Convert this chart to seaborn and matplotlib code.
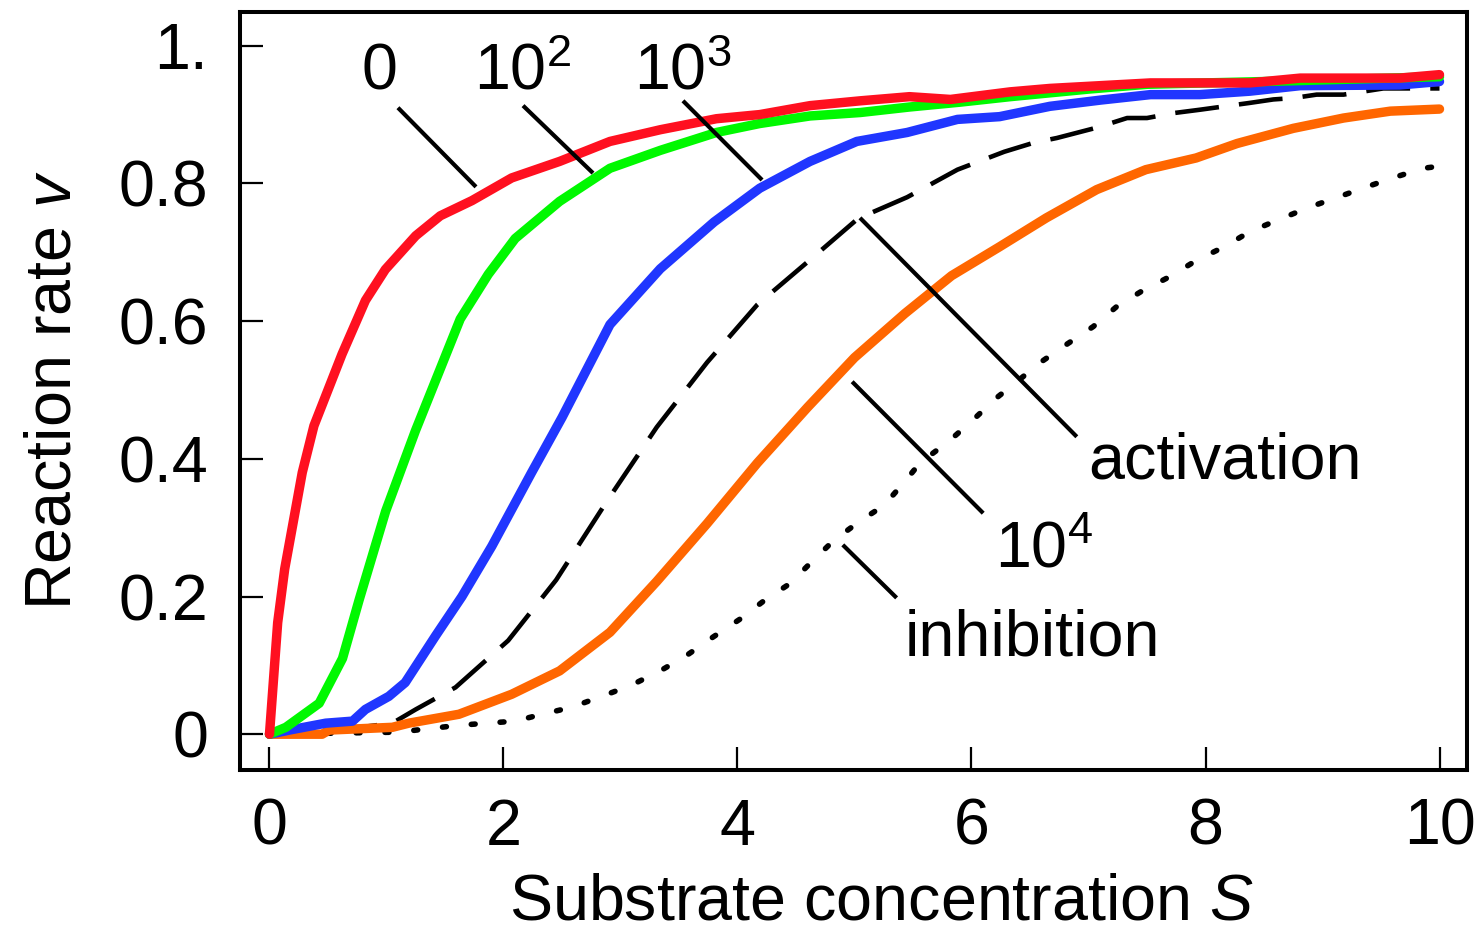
import numpy as np
import pandas as pd
import matplotlib
matplotlib.use("Agg")
import matplotlib.pyplot as plt
import seaborn as sns

# ---- curve data: reaction rate v versus substrate concentration S ----
s_0 = [0, 0.07, 0.13, 0.28, 0.38, 0.62, 0.82, 0.99, 1.25, 1.46, 1.73, 2.07, 2.48,
       2.91, 3.34, 3.82, 4.19, 4.62, 5.05, 5.47, 5.82, 6.33, 6.67, 7.53, 8.38, 8.81,
       9.66, 10.0]
v_0 = [0, 0.162, 0.24, 0.38, 0.448, 0.552, 0.63, 0.675, 0.724, 0.753, 0.775, 0.808,
       0.832, 0.861, 0.878, 0.894, 0.90, 0.913, 0.92, 0.926, 0.922, 0.933, 0.938,
       0.946, 0.946, 0.953, 0.953, 0.958]

s_1e2 = [0, 0.14, 0.425, 0.624, 0.766, 0.993, 1.248, 1.63, 1.87, 2.1, 2.48, 2.91,
         3.34, 3.82, 4.19, 4.62, 5.05, 5.47, 5.9, 6.33, 7.0, 7.5, 8.5, 10.0]
v_1e2 = [0, 0.01, 0.045, 0.11, 0.195, 0.324, 0.441, 0.603, 0.668, 0.72, 0.774, 0.822,
         0.848, 0.874, 0.887, 0.898, 0.903, 0.911, 0.918, 0.926, 0.937, 0.944, 0.948,
         0.955]

s_1e3 = [0, 0.17, 0.48, 0.71, 0.82, 1.02, 1.16, 1.42, 1.645, 1.9, 2.24, 2.5, 2.91,
         3.34, 3.8, 4.19, 4.62, 5.02, 5.45, 5.88, 6.24, 6.67, 7.1, 7.53, 7.95, 8.38,
         8.81, 9.66, 10.0]
v_1e3 = [0, 0.006, 0.016, 0.019, 0.036, 0.055, 0.075, 0.143, 0.2, 0.273, 0.38, 0.46,
         0.595, 0.676, 0.744, 0.793, 0.832, 0.861, 0.874, 0.893, 0.897, 0.912, 0.921,
         0.929, 0.929, 0.934, 0.942, 0.943, 0.948]

s_1e4 = [0, 0.45, 0.51, 1.05, 1.19, 1.62, 2.07, 2.48, 2.91, 3.31, 3.74, 4.17, 4.6,
         5.0, 5.43, 5.83, 6.24, 6.64, 7.07, 7.49, 7.92, 8.27, 8.75, 9.18, 9.58, 10.0]
v_1e4 = [0, 0.0, 0.006, 0.01, 0.016, 0.029, 0.058, 0.092, 0.148, 0.222, 0.306, 0.394,
         0.475, 0.547, 0.611, 0.666, 0.708, 0.75, 0.791, 0.82, 0.837, 0.858, 0.88,
         0.895, 0.905, 0.908]

s_act = [0, 0.5, 1.05, 1.25, 1.59, 2.04, 2.45, 2.89, 3.31, 3.74, 4.17, 4.62, 5.03,
         5.45, 5.88, 6.28, 6.53, 6.73, 7.07, 7.33, 7.5, 7.72, 7.95, 8.38, 8.58, 8.75,
         8.95, 9.18, 9.52, 10.0]
v_act = [0, 0.004, 0.016, 0.036, 0.068, 0.136, 0.224, 0.34, 0.446, 0.54, 0.624,
         0.689, 0.749, 0.78, 0.82, 0.846, 0.859, 0.866, 0.881, 0.895, 0.895, 0.902,
         0.907, 0.917, 0.922, 0.924, 0.929, 0.929, 0.938, 0.938]

s_inh = [0, 1.1, 1.62, 2.1, 2.33, 2.58, 2.84, 3.09, 3.34, 3.57, 3.79, 4.02, 4.22,
         4.45, 4.62, 4.82, 5.05, 5.25, 5.42, 5.56, 5.81, 6.01, 6.21, 6.41, 6.58, 6.82,
         7.04, 7.24, 7.45, 7.71, 7.92, 8.16, 8.38, 8.62, 8.88, 9.13, 9.36, 9.6, 9.86,
         10.0]
v_inh = [0, 0.003, 0.013, 0.019, 0.029, 0.039, 0.055, 0.071, 0.092, 0.115, 0.141,
         0.167, 0.193, 0.219, 0.248, 0.281, 0.31, 0.332, 0.365, 0.394, 0.426, 0.456,
         0.488, 0.515, 0.539, 0.567, 0.592, 0.621, 0.643, 0.666, 0.688, 0.708, 0.73,
         0.747, 0.765, 0.78, 0.794, 0.808, 0.822, 0.825]

x_ticks = [0, 2, 4, 6, 8, 10]
y_ticks = [0, 0.2, 0.4, 0.6, 0.8, 1.0]
y_tick_labels = ["0", "0.2", "0.4", "0.6", "0.8", "1."]

# curve labels: text, anchor (S, v), horizontal alignment
curve_labels = [
    ("0", (0.944, 0.936), "center"),
    ("10$^{2}$", (2.167, 0.936), "center"),
    ("10$^{3}$", (3.53, 0.936), "center"),
    ("activation", (6.996, 0.372), "left"),
    ("10$^{4}$", (6.20, 0.2427), "left"),
    ("inhibition", (5.43, 0.1148), "left"),
]
# leader lines from each label to its curve: (S0, v0, S1, v1)
leaders = [
    (1.098, 0.910, 1.765, 0.795),
    (2.167, 0.913, 2.765, 0.815),
    (3.534, 0.920, 4.210, 0.805),
    (5.047, 0.750, 6.900, 0.432),
    (4.980, 0.512, 6.100, 0.321),
    (4.900, 0.275, 5.360, 0.198),
]

sns.set_theme(style="white")
plt.rcParams["font.family"] = ["Liberation Sans", "DejaVu Sans"]
plt.rcParams["mathtext.fontset"] = "custom"
plt.rcParams["mathtext.rm"] = "Liberation Sans"
plt.rcParams["mathtext.it"] = "Liberation Sans:italic"

fig = plt.figure(figsize=(14.78, 9.33), dpi=100)
ax = fig.add_axes([240 / 1478, 1 - 770 / 933, 1227 / 1478, 758 / 933])

FS = 46.5

# black reference curves
sns.lineplot(x=s_inh, y=v_inh, ax=ax, color="black", lw=4.0, estimator=None,
             sort=False, legend=False)
ln = ax.lines[-1]
ln.set_dashes((0.7, 4.5))
ln.set_dash_capstyle("round")

sns.lineplot(x=s_act, y=v_act, ax=ax, color="black", lw=3.3, estimator=None,
             sort=False, legend=False)
ax.lines[-1].set_dashes((9.6, 4.4))

# coloured curves
colored = [
    (s_1e4, v_1e4, "#FF6600"),
    (s_1e3, v_1e3, "#2036FF"),
    (s_1e2, v_1e2, "#00F800"),
    (s_0, v_0, "#FF1020"),
]
for xs, ys, col in colored:
    sns.lineplot(x=xs, y=ys, ax=ax, color=col, lw=6.8, estimator=None,
                 sort=False, legend=False)
    ax.lines[-1].set_solid_capstyle("round")
    ax.lines[-1].set_solid_joinstyle("round")

# labels and leader lines
for x0, y0, x1, y1 in leaders:
    ax.plot([x0, x1], [y0, y1], color="black", lw=3.0, solid_capstyle="butt")
for txt, (lx, ly), ha in curve_labels:
    ax.text(lx, ly, txt, ha=ha, va="baseline", fontsize=FS, color="black")

ax.set_xlim(-0.252, 10.235)
ax.set_ylim(-0.052, 1.049)
ax.set_xticks(x_ticks)
ax.set_xticklabels([str(t) for t in x_ticks])
ax.set_yticks(y_ticks)
ax.set_yticklabels(y_tick_labels)
ax.tick_params(axis="both", which="major", direction="in", length=16.5,
               width=1.6, color="black", labelsize=FS, labelcolor="black")
ax.tick_params(axis="y", pad=23)
ax.tick_params(axis="x", pad=20)
ax.tick_params(top=False, right=False, bottom=True, left=True)

for sp in ax.spines.values():
    sp.set_visible(True)
    sp.set_color("black")
    sp.set_linewidth(2.9)

ax.set_xlabel("")
ax.set_ylabel("")
fig.text(881 / 1478, 1 - 920 / 933, "Substrate concentration $S$", ha="center",
         va="baseline", fontsize=FS, color="black")
fig.text(71 / 1478, 1 - 390 / 933, "Reaction rate $v$", rotation=90,
         rotation_mode="anchor", ha="center", va="baseline", fontsize=FS,
         color="black")

fig.savefig("out.png", dpi=100, facecolor="white")
